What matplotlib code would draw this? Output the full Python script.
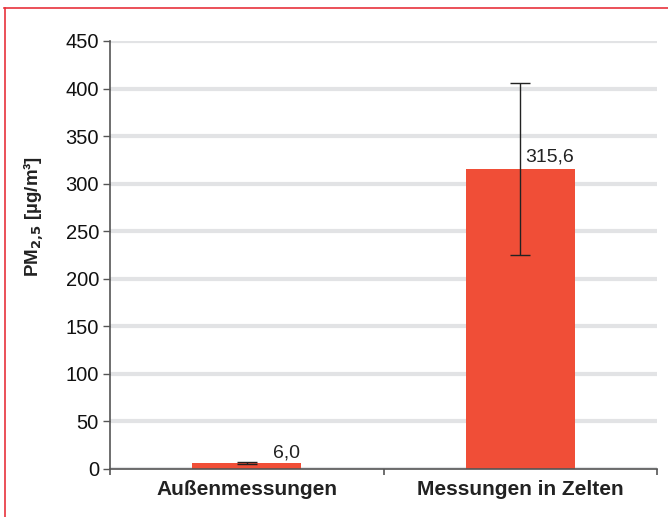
import matplotlib
matplotlib.use("Agg")
import matplotlib.pyplot as plt
from matplotlib.lines import Line2D

plt.rcParams['font.family'] = ['Liberation Sans', 'DejaVu Sans']

categories = ["Außenmessungen", "Messungen in Zelten"]
values = [6.0, 315.6]
errors = [1.0, 90.6]
value_labels = ["6,0", "315,6"]
yticks = [0, 50, 100, 150, 200, 250, 300, 350, 400, 450]

W, H = 668, 517
fig = plt.figure(figsize=(W/100, H/100), dpi=100)
ax = fig.add_axes([110/W, 1-469/H, (657-110)/W, (469-41)/H])

bar_color = "#f04e37"
x = list(range(len(categories)))
ax.bar(x, values, width=0.4, color=bar_color, zorder=2)
ax.errorbar(x, values, yerr=errors, fmt='none', ecolor='#222222',
            elinewidth=1.0, capsize=7, capthick=1.0, zorder=3)

offsets = [(26, 2), (5, 3)]
for xi, v, lab, off in zip(x, values, value_labels, offsets):
    ax.annotate(lab, (xi, v), xytext=off, textcoords='offset pixels',
                ha='left', va='bottom', fontsize=14, color='#222222')

ax.set_xlim(-0.5, 1.5)
ax.set_ylim(0, 450)
ax.set_yticks(yticks)
ax.set_yticklabels([str(t) for t in yticks], fontsize=14.5, color='#111111')
ax.yaxis.grid(True, color='#e2e3e5', linewidth=3)
ax.set_axisbelow(True)

ax.set_xticks(x)
ax.set_xticklabels(categories, fontsize=15, fontweight='bold', color='#222222')
ax.tick_params(axis='x', length=0, pad=8)
ax.set_xticks([-0.5, 0.5, 1.5], minor=True)
ax.tick_params(axis='x', which='minor', length=4, color='#555555', width=1.2)
ax.tick_params(axis='y', length=5, color='#555555', width=1.0, pad=3)

for s in ['top', 'right']:
    ax.spines[s].set_visible(False)
for s in ['left', 'bottom']:
    ax.spines[s].set_color('#555555')
    ax.spines[s].set_linewidth(1.2)

ax.set_ylabel("PM$_{\\mathbf{2{,}5}}$ [µg/m³]", fontsize=13.5, fontweight='bold',
              color='#222222')
ax.yaxis.set_label_coords(-0.117, 0.589)

# red frame
fig.add_artist(Line2D([4/W, 1], [1-8/H, 1-8/H], color='#e8323c', lw=1.2, transform=fig.transFigure))
fig.add_artist(Line2D([5/W, 5/W], [0, 1-8/H], color='#e8323c', lw=1.2, transform=fig.transFigure))

fig.savefig("out.png", dpi=100)
